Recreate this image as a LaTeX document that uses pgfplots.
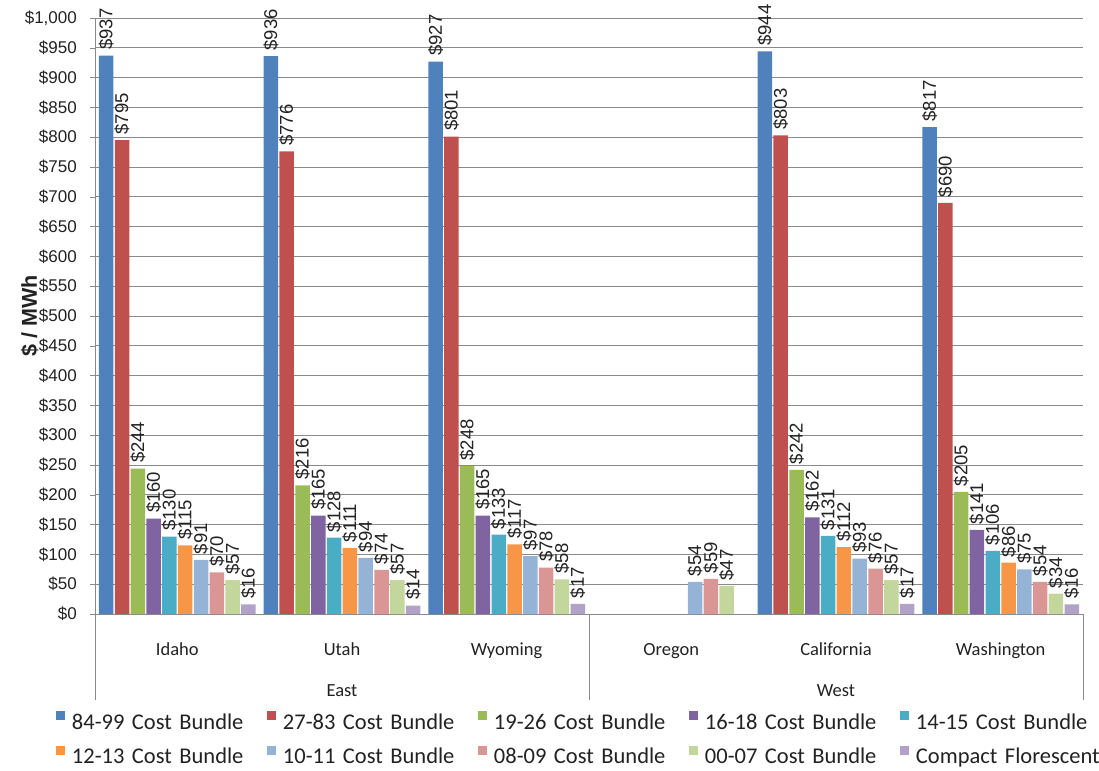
\documentclass[border=0pt]{standalone}
\usepackage{pgfplots}
\pgfplotsset{compat=1.18}
\usepackage{fontspec}
\setmainfont{Liberation Sans}
\newfontfamily\calfont{Carlito}
\definecolor{cA}{HTML}{4F81BD}
\definecolor{cB}{HTML}{C0504D}
\definecolor{cC}{HTML}{9BBB59}
\definecolor{cD}{HTML}{8064A2}
\definecolor{cE}{HTML}{4BACC6}
\definecolor{cF}{HTML}{F79646}
\definecolor{cG}{HTML}{95B3D7}
\definecolor{cH}{HTML}{D99694}
\definecolor{cI}{HTML}{C3D69B}
\definecolor{cJ}{HTML}{B3A2C7}
\definecolor{gridc}{HTML}{8A8A8A}
\definecolor{txt}{HTML}{222222}
\begin{document}
\begin{tikzpicture}
\useasboundingbox (0,0) rectangle (1099bp,771bp);
\begin{axis}[
  at={(95bp,157bp)}, anchor=south west,
  scale only axis, width=988bp, height=596bp,
  ybar=1.3bp, bar width=14.5bp,
  xmin=-0.5, xmax=5.5, ymin=0, ymax=1000,
  enlarge x limits=false,
  axis x line=bottom, axis y line=left,
  axis line style={gridc, -},
  xtick={0,1,2,3,4,5},
  xticklabels={Idaho,Utah,Wyoming,Oregon,California,Washington},
  xtick style={draw=none},
  xticklabel style={anchor=base, yshift=-36bp, font=\calfont\fontsize{18.5bp}{20bp}\selectfont, text=txt},
  ytick={0,50,...,1000},
  yticklabels={\$0,\$50,\$100,\$150,\$200,\$250,\$300,\$350,\$400,\$450,\$500,\$550,\$600,\$650,\$700,\$750,\$800,\$850,\$900,\$950,{\$1,000}},
  yticklabel style={anchor=east, inner sep=0pt, xshift=-13bp, font=\fontsize{17bp}{18bp}\selectfont, text=txt},
  ytick style={gridc},
  tick align=outside, major tick length=5bp,
  ymajorgrids, grid style={gridc, line width=0.8bp},
  ylabel={\$ / MWh},
  ylabel style={at={(axis description cs:-0.066,0.5)}, anchor=center, font=\bfseries\fontsize{21.5bp}{23bp}\selectfont, text=txt},
  /pgf/number format/assume math mode=true,
  nodes near coords={\$\pgfmathprintnumber{\pgfplotspointmeta}},
  every node near coord/.append style={rotate=90, anchor=west, inner sep=5.5bp, font=\fontsize{18.5bp}{20bp}\selectfont, text=txt},
  clip=false,
  legend columns=5,
  legend image code/.code={\fill[#1] (0bp,2bp) rectangle (9bp,11bp);},
  legend style={at={(axis description cs:-0.0395,0)}, anchor=north west, yshift=-97bp,
    draw=none, inner sep=0pt, outer sep=0pt, row sep=13bp, column sep=0pt,
    /tikz/every odd column/.append style={column sep=5bp},
    nodes={text width=193bp, align=left, inner sep=2bp, font=\calfont\fontsize{22.5bp}{25bp}\selectfont, text=txt}},
]
\addplot[fill=cA, draw=none] coordinates {(0,937) (1,936) (2,927) (4,944) (5,817)};
\addplot[fill=cB, draw=none] coordinates {(0,795) (1,776) (2,801) (4,803) (5,690)};
\addplot[fill=cC, draw=none] coordinates {(0,244) (1,216) (2,248) (4,242) (5,205)};
\addplot[fill=cD, draw=none] coordinates {(0,160) (1,165) (2,165) (4,162) (5,141)};
\addplot[fill=cE, draw=none] coordinates {(0,130) (1,128) (2,133) (4,131) (5,106)};
\addplot[fill=cF, draw=none] coordinates {(0,115) (1,111) (2,117) (4,112) (5,86)};
\addplot[fill=cG, draw=none] coordinates {(0,91) (1,94) (2,97) (3,54) (4,93) (5,75)};
\addplot[fill=cH, draw=none] coordinates {(0,70) (1,74) (2,78) (3,59) (4,76) (5,54)};
\addplot[fill=cI, draw=none] coordinates {(0,57) (1,57) (2,58) (3,47) (4,57) (5,34)};
\addplot[fill=cJ, draw=none] coordinates {(0,16) (1,14) (2,17) (4,17) (5,16)};
\legend{84-99 Cost Bundle,27-83 Cost Bundle,19-26 Cost Bundle,16-18 Cost Bundle,14-15 Cost Bundle,12-13 Cost Bundle,10-11 Cost Bundle,08-09 Cost Bundle,00-07 Cost Bundle,Compact Florescent}
\draw[gridc, line width=0.8bp] (axis cs:-0.5,0) -- ++(0bp,-86bp);
\draw[gridc, line width=0.8bp] (axis cs:2.5,0) -- ++(0bp,-86bp);
\draw[gridc, line width=0.8bp] (axis cs:5.5,0) -- ++(0bp,-86bp);
\node[anchor=base, font=\calfont\fontsize{18.5bp}{20bp}\selectfont, text=txt] at ([yshift=-82bp]axis cs:1,0) {East};
\node[anchor=base, font=\calfont\fontsize{18.5bp}{20bp}\selectfont, text=txt] at ([yshift=-82bp]axis cs:4,0) {West};
\end{axis}
\end{tikzpicture}
\end{document}
